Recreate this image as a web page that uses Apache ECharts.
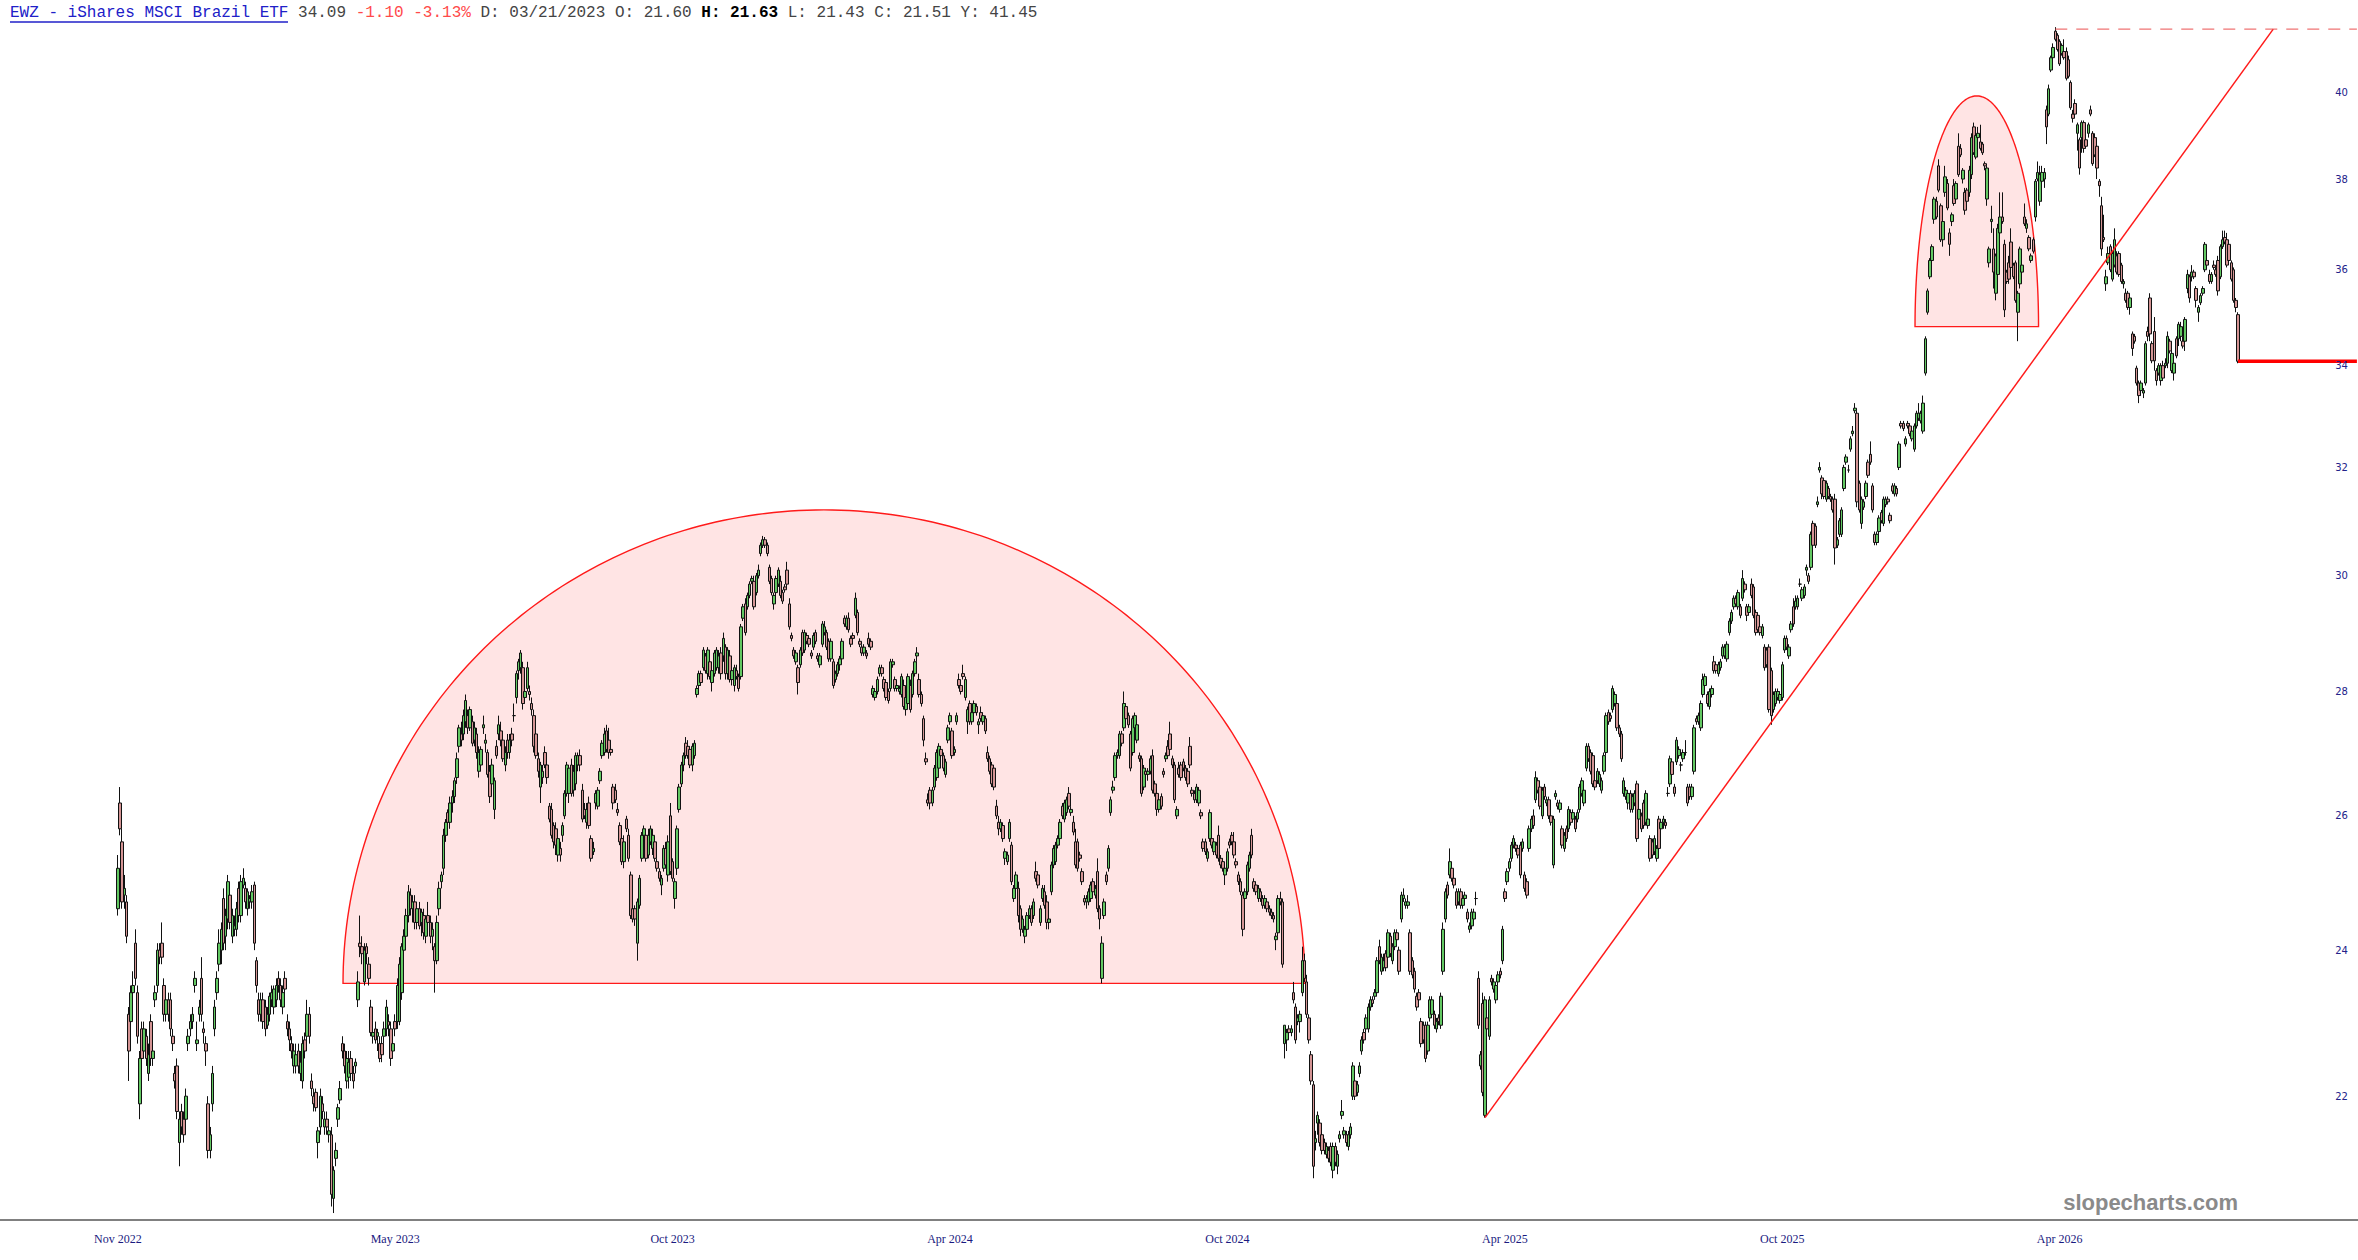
<!DOCTYPE html>
<html><head><meta charset="utf-8">
<script src="https://cdn.jsdelivr.net/npm/echarts@6/dist/echarts.min.js"></script>
<style>html,body{margin:0;padding:0;background:#fff}#chart{width:2358px;height:1260px}</style>
</head><body><div id="chart"></div>
<script>
// ---- axis text ----
const tickLabels = ['Nov 2022','May 2023','Oct 2023','Apr 2024','Oct 2024','Apr 2025','Oct 2025','Apr 2026'];
const tickEvery = 126;
const yTicks = [22,24,26,28,30,32,34,36,38,40];
const padLeft = 53, padRight = 54;

// ---- daily bars [open, high, low, close] ----
const seg1 = [
[24.6,25.4,24.5,25.2],[26.2,26.45,25.7,25.8],[25.6,25.8,24.6,24.7],[24.8,25.1,24.6,24.9],[24.7,24.8,24.1,24.2],
[23.1,23.2,22.2,22.6],[23.0,23.5,22.9,23.4],[23.4,23.7,23.3,23.5],[24.1,24.3,23.5,23.6],[23.4,23.5,22.7,22.8],
[21.9,22.6,21.7,22.5],[22.9,23.0,22.4,22.5],[22.6,23.0,22.5,22.9],[22.8,22.9,22.4,22.5],[22.3,22.7,22.2,22.55],
[23.0,23.1,22.4,22.5],[22.5,22.8,22.4,22.6],[23.3,23.5,23.2,23.4],[23.5,24.1,23.4,24.0],[24.0,24.1,23.8,23.9],
[24.1,24.4,23.8,23.9],[23.5,23.6,23.0,23.1],[23.1,23.4,23.0,23.3],[23.3,23.4,23.0,23.1],[23.3,23.4,22.8,22.9],
[22.8,22.9,22.6,22.7],[22.3,22.4,22.1,22.2],[22.4,22.5,21.7,21.8],[21.4,21.8,21.1,21.7],[21.8,21.9,21.5,21.6],
[21.7,21.8,21.4,21.5],[21.7,22.1,21.6,22.0],[22.7,22.9,22.6,22.8],[22.9,23.1,22.8,23.0],[23.0,23.2,22.9,23.1],
[23.5,23.7,23.4,23.6],[22.7,23.0,22.6,22.75],[23.1,23.3,23.0,23.2],[23.6,23.9,23.0,23.1],[22.9,23.0,22.7,22.85],
[22.7,22.8,22.4,22.6],[21.9,22.0,21.2,21.3],[21.3,21.6,21.2,21.5],[21.9,22.4,21.8,22.3],[22.9,23.3,22.8,23.2],
[23.4,23.7,23.3,23.6],[23.8,24.3,23.7,24.1],[24.0,24.4,23.8,24.3],[24.75,24.9,24.0,24.1],[24.2,24.6,24.0,24.5],
[24.45,25.1,24.3,25.0],[24.8,24.9,24.3,24.4],[24.2,24.6,24.1,24.5],[24.3,24.5,24.2,24.35],[24.3,24.7,24.2,24.6],
[24.9,25.0,24.4,24.5],[24.5,25.1,24.4,25.0],[24.95,25.2,24.9,25.05],[24.9,25.0,24.6,24.7],[24.6,24.9,24.5,24.85],
[24.7,24.8,24.6,24.75],[24.7,24.95,24.6,24.85],[24.95,25.0,24.0,24.1],[23.85,23.9,23.4,23.5],[23.3,23.4,23.0,23.1],
[23.1,23.4,23.0,23.3],[23.3,23.4,22.9,23.0],[23.2,23.3,22.8,22.9],[22.95,23.2,22.9,23.1],[23.1,23.4,23.0,23.35],
[23.3,23.5,23.2,23.4],[23.2,23.5,23.1,23.45],[23.3,23.6,23.2,23.5],[23.6,23.7,23.4,23.5],[23.5,23.6,23.2,23.3],
[23.2,23.5,23.1,23.4],[23.6,23.7,23.3,23.45],[23.0,23.1,22.8,22.9],[22.9,23.0,22.6,22.75],[22.7,22.8,22.5,22.6],
[22.4,22.7,22.3,22.6],[22.4,22.7,22.3,22.55],[22.6,22.7,22.3,22.4],[22.3,22.6,22.2,22.45],[22.2,22.8,22.1,22.7],
[22.75,22.85,22.5,22.6],[22.8,23.3,22.7,23.1],[23.1,23.2,22.7,22.8],[22.2,22.3,22.0,22.1],[22.0,22.1,21.8,21.9],
[22.05,22.1,21.8,21.85],[21.4,21.6,21.2,21.55],[21.6,22.1,21.5,22.0],[21.9,22.0,21.7,21.8],[21.6,21.8,21.5,21.7],
[21.7,21.8,21.5,21.6],[21.5,21.7,21.4,21.55],[21.5,21.6,20.6,20.75],[20.7,21.1,20.52,21.05],[21.2,21.4,21.1,21.3],
[21.7,21.9,21.6,21.85],[21.95,22.2,21.9,22.1],[22.7,22.8,22.5,22.6],[22.6,22.7,22.3,22.4],[22.2,22.6,22.1,22.5],
[22.25,22.6,22.1,22.45],[22.5,22.6,22.2,22.3],[22.3,22.4,22.1,22.2],[22.4,22.5,22.3,22.45],[23.3,23.7,23.2,23.55],
[24.1,24.5,23.9,24.05],[24.05,24.2,23.8,23.95],[23.55,24.1,23.5,24.0],[24.05,24.1,23.8,23.95],[23.8,23.9,23.5,23.6],
[23.2,23.3,22.8,22.85],[22.8,23.0,22.7,22.85],[22.9,23.0,22.7,22.75],[22.8,22.9,22.6,22.85],[22.7,22.8,22.45,22.5],
[22.7,22.8,22.45,22.55],[22.8,23.0,22.7,22.9],[22.9,23.3,22.8,23.2],[23.0,23.1,22.8,22.95],[22.9,23.0,22.4,22.5],
[22.6,22.8,22.5,22.7],[23.0,23.1,22.8,22.9],[23.0,23.6,22.9,23.5]
];
const seg2 = [
[23.0,23.9,22.95,23.8],[23.4,24.1,23.3,24.05],[24.0,24.3,23.9,24.2],[24.2,24.6,24.1,24.5],[24.5,24.95,24.4,24.85],
[24.8,24.9,24.5,24.6],[24.6,24.8,24.4,24.7],[24.7,24.8,24.3,24.4],[24.4,24.7,24.3,24.6],[24.6,24.7,24.3,24.35],
[24.4,24.6,24.2,24.55],[24.5,24.6,24.15,24.25],[24.2,24.5,24.1,24.45],[24.5,24.7,24.3,24.4],[24.4,24.5,24.1,24.2],
[24.2,24.4,24.0,24.3],[24.05,24.1,23.4,23.85],[23.85,24.5,23.8,24.4],[24.6,25.0,24.5,24.9],[25.0,25.15,24.9,25.1],
[25.2,25.8,25.1,25.7],[25.7,25.95,25.6,25.9],[26.05,26.1,25.8,25.9],[25.9,26.3,25.8,26.2],[26.2,26.4,26.05,26.3],
[26.3,26.6,26.2,26.55],[26.6,27.0,26.5,26.9],[27.1,27.45,27.0,27.4],[27.3,27.5,27.1,27.2],[27.3,27.7,27.2,27.6],
[27.5,27.95,27.4,27.85],[27.6,27.7,27.3,27.4],[27.4,27.75,27.35,27.7],[27.5,27.6,27.1,27.15],[27.2,27.5,27.1,27.4],
[27.3,27.4,26.9,27.0],[26.7,27.1,26.6,27.0],[26.8,27.1,26.7,27.05],[27.4,27.6,27.3,27.45],[27.15,27.3,27.0,27.2],
[27.0,27.05,26.6,26.65],[26.7,26.8,26.2,26.3],[26.5,26.9,26.4,26.8],[26.1,26.6,25.95,26.55],[27.1,27.2,26.9,26.95],
[27.3,27.6,27.2,27.45],[27.35,27.5,27.1,27.2],[27.2,27.3,26.85,26.9],[26.8,27.1,26.7,27.0],[27.2,27.3,26.9,27.0],
[27.0,27.3,26.9,27.2],[27.3,27.4,27.1,27.2],[27.6,27.8,27.5,27.6],[27.9,28.35,27.8,28.3],[28.35,28.55,28.2,28.5],
[28.4,28.7,28.3,28.65],[28.4,28.5,27.7,27.8],[27.9,28.1,27.8,28.0],[28.05,28.5,28.0,28.4],[28.0,28.1,27.85,27.95],
[27.8,27.9,27.6,27.7],[27.6,27.7,27.0,27.1],[27.3,27.35,26.9,26.95],[26.9,27.0,26.6,26.7],[26.45,26.85,26.2,26.8],
[26.6,26.8,26.5,26.7],[27.0,27.1,26.75,26.8],[26.8,26.9,26.5,26.6],[26.15,26.2,25.9,25.95],[26.1,26.2,25.65,25.7],
[25.85,25.9,25.5,25.6],[25.8,25.9,25.4,25.55],[25.4,25.7,25.3,25.65],[25.5,25.6,25.3,25.4],[25.7,25.9,25.6,25.85],
[26.0,26.4,25.95,26.35],[26.35,26.85,26.3,26.8],[26.35,26.8,26.2,26.75],[26.8,26.9,26.3,26.35],[26.4,26.8,26.3,26.7],
[26.5,27.0,26.4,26.95],[26.8,27.0,26.7,26.95],[26.95,27.05,26.7,26.8],[26.4,26.5,25.9,25.95],[26.1,26.2,25.95,26.0],
[25.9,26.2,25.8,26.1],[26.2,26.3,25.8,25.85],[25.65,25.7,25.3,25.35],[25.45,25.6,25.4,25.5],[26.2,26.4,26.1,26.35],
[26.15,26.45,26.1,26.4],[26.55,26.75,26.5,26.7],[26.95,27.2,26.9,27.15],[27.0,27.4,26.95,27.3],[27.35,27.45,27.0,27.05],
[27.2,27.4,26.9,27.0],[27.05,27.1,26.95,27.0],[26.45,26.5,26.1,26.2],[26.4,26.5,26.2,26.25],[26.1,26.2,26.0,26.05],
[25.85,25.9,25.55,25.6],[25.65,25.7,25.25,25.3],[25.3,25.7,25.2,25.6],[25.95,26.0,25.75,25.8],[25.7,25.8,25.3,25.35],
[25.1,25.15,24.45,24.5],[24.6,24.7,24.4,24.45],[24.6,24.65,24.35,24.45],[24.1,24.75,23.85,24.7],[24.65,25.1,24.6,25.05],
[25.35,25.75,25.3,25.7],[25.7,25.85,25.6,25.8],[25.7,25.8,25.3,25.35],[25.4,25.8,25.35,25.7],[25.6,25.85,25.55,25.8],
[25.5,25.8,25.4,25.7],[25.6,25.65,25.3,25.35],[25.3,25.35,25.15,25.2],[25.15,25.2,25.0,25.05],[24.95,25.1,24.8,25.05],
[25.2,25.55,25.15,25.5],[25.5,25.6,25.2,25.25],[25.1,25.7,25.0,25.6],[26.0,26.2,25.1,25.15],[25.3,25.35,25.0,25.05],
[24.75,25.05,24.6,25.0],[25.2,25.85,25.1,25.8],[26.1,26.5,26.05,26.45],[26.5,26.85,26.45,26.8],[26.8,27.0,26.7,26.95],
[27.15,27.25,26.9,26.95],[27.1,27.2,26.9,26.95],[27.05,27.1,26.75,26.8],[26.8,27.15,26.7,27.1],[26.95,27.2,26.9,27.15],
[27.95,28.1,27.9,28.05],[28.1,28.35,28.0,28.3],[28.3,28.35,28.1,28.15],[28.4,28.75,28.35,28.7],[28.6,28.65,28.3,28.35],
[28.3,28.75,28.2,28.7],[28.5,28.6,28.2,28.25],[28.15,28.4,28.0,28.35],[28.3,28.7,28.25,28.65],[28.4,28.75,28.35,28.7],
[28.4,28.7,28.3,28.6],[28.65,28.75,28.2,28.3],[28.6,29.0,28.5,28.9],[28.75,28.8,28.2,28.3],[28.3,28.75,28.2,28.7],
[28.6,28.7,28.15,28.2],[28.2,28.4,28.1,28.35],[28.1,28.45,28.0,28.4],[28.35,28.45,28.2,28.25],[28.25,28.3,28.0,28.05],
[28.25,29.15,28.2,29.1],[29.25,29.5,29.2,29.45],[29.5,29.6,28.95,29.0],[29.45,29.7,29.4,29.65],[29.65,29.9,29.6,29.85],
[29.9,30.0,29.85,29.95],[29.9,30.0,29.4,29.45],[29.7,30.05,29.65,30.0],[30.0,30.2,29.95,30.1],[30.4,30.6,30.35,30.55],
[30.55,30.72,30.5,30.65],[30.65,30.7,30.5,30.55],[30.55,30.6,30.35,30.4],[30.15,30.2,29.85,29.9],[29.95,30.0,29.65,29.7],
[29.5,29.7,29.4,29.65],[29.7,30.0,29.6,29.95],[29.85,30.15,29.8,30.1],[29.9,30.0,29.6,29.65],[29.7,29.75,29.5,29.55],
[29.8,29.85,29.7,29.75],[30.1,30.25,29.8,29.85],[29.5,29.6,29.05,29.1],[28.95,29.0,28.85,28.9],[28.7,28.75,28.55,28.6],
[28.5,28.7,28.45,28.65],[28.4,28.45,27.95,28.15],[28.45,28.75,28.4,28.7],[29.0,29.05,28.6,28.65],[28.7,29.05,28.65,29.0],
[28.95,29.0,28.8,28.85],[28.9,28.95,28.75,28.8],[28.65,28.7,28.55,28.6],[28.75,29.0,28.7,28.95],[29.0,29.05,28.8,28.85],
[28.6,28.65,28.5,28.55],[28.45,28.65,28.4,28.6],[28.8,29.2,28.75,29.15],[29.0,29.2,28.95,29.1],[29.0,29.05,28.7,28.75],
[28.85,28.9,28.5,28.55],[28.55,28.9,28.5,28.85],[28.5,28.55,28.05,28.1],[28.2,28.35,28.15,28.3],[28.3,28.5,28.25,28.45],
[28.45,28.6,28.35,28.55],[28.55,28.9,28.5,28.85],[29.25,29.3,29.1,29.15],[29.1,29.3,29.05,29.25],[29.25,29.35,29.0,29.05],
[28.9,28.95,28.75,28.8],[28.95,29.0,28.8,28.9],[29.3,29.7,29.25,29.6],[29.35,29.4,28.95,29.0],[28.85,28.9,28.75,28.8],
[28.75,28.8,28.6,28.65],[28.65,28.8,28.6,28.75],[28.65,28.7,28.55,28.6],[28.9,29.0,28.75,28.8],[28.85,28.9,28.7,28.75],
[27.95,28.1,27.9,28.05],[27.9,28.05,27.85,28.0],[28.0,28.25,27.95,28.2],[28.3,28.45,28.25,28.4],[28.4,28.45,28.25,28.3],
[28.2,28.25,28.0,28.05],[28.15,28.2,27.85,27.9],[28.0,28.05,27.8,27.85],[28.05,28.55,28.0,28.5],[28.45,28.55,28.4,28.5],
[28.2,28.25,28.0,28.05],[28.05,28.15,28.0,28.1]
];
const seg3 = [
[28.0,28.1,27.95,28.05],[27.95,28.3,27.9,28.25],[28.1,28.2,27.7,27.75],[27.7,27.95,27.6,27.9],[27.8,28.3,27.75,28.25],
[28.1,28.2,27.65,27.7],[27.95,28.35,27.9,28.3],[28.3,28.55,28.25,28.5],[28.6,28.75,28.5,28.65],[28.2,28.3,27.9,27.95],
[27.95,28.0,27.75,27.8],[27.55,27.6,27.1,27.2],[26.9,27.0,26.8,26.85],[26.25,26.35,26.15,26.2],[26.4,26.45,26.1,26.2],
[26.2,26.45,26.15,26.4],[26.45,26.8,26.4,26.75],[26.6,27.05,26.55,27.0],[26.75,27.15,26.7,27.1],[27.05,27.1,26.9,26.95],
[26.95,27.0,26.7,26.75],[26.65,26.9,26.6,26.85],[27.2,27.45,27.15,27.4],[27.5,27.65,27.45,27.6],[27.35,27.4,26.9,26.95],
[27.0,27.1,26.95,27.05],[27.5,27.65,27.45,27.6],[28.2,28.3,28.05,28.1],[28.1,28.15,27.95,28.0],[28.3,28.45,28.2,28.25],
[27.9,28.25,27.85,28.2],[27.5,27.75,27.3,27.7],[27.8,27.85,27.45,27.5],[27.5,27.7,27.45,27.65],[27.65,27.85,27.6,27.8],
[27.75,27.8,27.6,27.65],[27.45,27.55,27.3,27.5],[27.65,27.75,27.5,27.55],[27.5,27.65,27.45,27.6],[27.55,27.6,27.3,27.35],
[27.0,27.1,26.85,26.9],[26.9,26.95,26.65,26.7],[26.8,26.85,26.45,26.5],[26.75,26.8,26.4,26.45],[26.15,26.25,25.95,26.0],
[25.9,26.0,25.7,25.8],[25.8,25.95,25.75,25.9],[25.85,25.9,25.6,25.65],[25.35,25.5,25.25,25.45],[25.3,25.45,25.25,25.4],
[25.65,25.95,25.6,25.9],[25.55,25.6,24.95,25.0],[24.75,24.95,24.7,24.9],[24.9,25.15,24.85,25.1],[24.9,25.0,24.4,24.5],
[24.6,24.65,24.2,24.3],[24.3,24.5,24.25,24.45],[24.2,24.35,24.1,24.3],[24.3,24.55,24.25,24.5],[24.5,24.65,24.45,24.6],
[24.6,24.65,24.35,24.4],[24.5,24.75,24.45,24.7],[25.15,25.3,25.0,25.05],[25.1,25.15,24.9,24.95],[24.4,24.65,24.35,24.6],
[24.75,24.95,24.7,24.9],[24.85,24.95,24.6,24.65],[24.7,24.8,24.3,24.4],[24.4,24.5,24.3,24.45],[24.85,25.3,24.8,25.25],
[25.25,25.55,25.2,25.5],[25.3,25.6,25.25,25.55],[25.55,25.7,25.5,25.65],[25.65,25.95,25.6,25.9],[26.15,26.2,25.95,26.0],
[25.95,26.25,25.9,26.2],[26.05,26.3,26.0,26.25],[26.35,26.45,26.1,26.15],[26.05,26.15,26.0,26.1],[25.9,26.0,25.7,25.75],
[25.6,25.8,25.2,25.25],[25.6,25.65,25.15,25.2],[25.4,25.45,25.3,25.35],[25.15,25.2,24.95,25.0],[24.75,24.8,24.65,24.7],
[24.7,24.8,24.6,24.75],[24.7,24.9,24.65,24.85],[24.75,25.0,24.7,24.95],[25.0,25.05,24.8,24.85],[24.8,24.95,24.75,24.9],
[25.15,25.35,24.55,24.6],[24.6,24.65,24.3,24.45],[23.6,24.2,23.53,24.1],[24.5,24.75,24.45,24.7],[25.1,25.15,24.95,25.0],
[25.2,25.55,25.15,25.5],[26.05,26.3,26.0,26.25],[26.4,26.55,26.35,26.45],[26.6,27.0,26.55,26.95],[26.95,27.05,26.9,27.0],
[26.95,27.35,26.9,27.3],[27.3,27.35,27.1,27.15],[27.4,28.0,27.35,27.8],[27.75,27.8,27.5,27.55],[27.6,27.65,27.4,27.45],
[27.3,27.35,26.7,26.75],[27.0,27.6,26.95,27.55],[27.4,27.65,27.35,27.6],[27.2,27.5,27.15,27.45],[26.95,27.0,26.85,26.9],
[26.9,26.95,26.3,26.35],[26.45,26.8,26.4,26.75],[26.7,26.75,26.6,26.65],[26.65,26.75,26.55,26.7],[26.7,26.95,26.65,26.9],
[26.95,27.05,26.35,26.4],[26.5,26.55,26.3,26.35],[26.35,26.4,26.0,26.1],[26.1,26.3,26.05,26.25],[26.3,26.35,26.1,26.15],
[26.7,26.75,26.6,26.65],[26.9,27.0,26.85,26.95],[27.1,27.2,26.9,26.95],[27.3,27.5,27.0,27.05],[26.9,26.95,26.75,26.8],
[26.8,26.85,26.2,26.25],[26.0,26.15,25.95,26.1],[26.75,26.85,26.6,26.65],[26.8,26.85,26.55,26.6],[26.85,26.9,26.7,26.75],
[26.75,26.8,26.55,26.6],[26.7,26.75,26.45,26.5],[27.1,27.25,26.75,26.8],[26.4,26.45,26.3,26.35],[26.35,26.4,26.2,26.25],
[26.25,26.5,26.2,26.45],[26.2,26.45,26.15,26.4],[26.05,26.1,25.95,26.0],[25.6,25.65,25.45,25.5],[25.6,25.65,25.4,25.45],
[25.35,25.5,25.3,25.45],[25.65,26.1,25.6,26.05],[25.65,25.7,25.5,25.55],[25.45,25.65,25.4,25.6],[25.55,25.6,25.35,25.4],
[25.7,25.85,25.3,25.35],[25.35,25.4,25.2,25.25],[25.3,25.35,25.15,25.2],[25.1,25.25,24.95,25.2],[25.2,25.5,25.15,25.45],
[25.6,25.65,25.5,25.55],[25.7,25.75,25.55,25.6],[25.6,25.75,25.35,25.4],[25.3,25.35,25.2,25.25],[25.1,25.15,24.95,25.0],
[25.0,25.05,24.8,24.85],[24.8,24.85,24.2,24.3],[24.75,24.9,24.7,24.85],[24.85,25.3,24.8,25.25],[25.2,25.45,25.15,25.4],
[25.7,25.8,25.35,25.4],[25.0,25.05,24.85,24.9],[24.95,25.0,24.8,24.85],[24.75,24.95,24.7,24.9],[24.85,24.9,24.7,24.75],
[24.75,24.8,24.6,24.65],[24.65,24.8,24.6,24.75],[24.7,24.75,24.55,24.6],[24.6,24.65,24.5,24.55],[24.55,24.6,24.45,24.5],
[24.5,24.55,24.4,24.45],[24.15,24.25,24.0,24.2],[24.25,24.8,24.2,24.75],[24.75,24.85,24.65,24.7],[24.7,24.75,23.75,23.8],
[22.7,22.95,22.5,22.95],[22.75,22.9,22.6,22.85],[22.9,22.95,22.8,22.85],[22.85,22.95,22.8,22.9],[23.4,23.55,23.25,23.3],
[23.2,23.25,22.7,22.75],[23.0,23.1,22.95,23.05],[23.0,23.15,22.85,23.1],[23.4,24.05,23.35,23.85],[23.85,23.95,23.55,23.6],
[23.55,23.65,23.05,23.1],[23.05,23.1,22.7,22.75],[22.55,22.6,22.15,22.2],[22.15,22.2,20.95,21.1],[21.4,21.55,21.3,21.45],
[21.65,21.8,21.5,21.75],[21.65,21.7,21.35,21.4],[21.5,21.55,21.25,21.3],[21.4,21.45,21.25,21.3],[21.25,21.4,21.2,21.35],
[21.3,21.35,21.15,21.2],[21.35,21.4,21.1,21.15],[21.05,21.4,20.95,21.35],[21.35,21.4,21.1,21.15],[21.1,21.3,21.0,21.25],
[21.45,21.55,21.4,21.5],[21.75,21.95,21.7,21.8],[21.5,21.6,21.45,21.55],[21.5,21.55,21.35,21.4],[21.35,21.55,21.3,21.5],
[21.5,21.65,21.45,21.6],[22.0,22.45,21.95,22.4],[22.2,22.25,21.95,22.0],[22.05,22.2,22.0,22.15],[22.3,22.45,22.25,22.4],
[22.6,22.8,22.55,22.75],[22.85,22.9,22.7,22.75],[22.9,23.1,22.85,23.05],[22.9,23.25,22.85,23.2],[23.2,23.35,23.15,23.3],
[23.3,23.35,23.2,23.25],[23.35,23.45,23.3,23.4],[23.4,23.9,23.35,23.85],[24.05,24.15,23.8,23.85],[23.7,23.95,23.65,23.9],
[23.75,23.95,23.7,23.85],[23.95,24.0,23.7,23.75],[23.9,24.3,23.85,24.25],[24.2,24.25,23.9,23.95],[23.85,24.1,23.8,24.05],
[24.05,24.3,24.0,24.25],[24.25,24.3,24.1,24.15],[24.0,24.05,23.65,23.7],[24.45,24.85,24.4,24.8],[24.75,24.9,24.7,24.8],
[24.65,24.75,24.6,24.7],[24.65,24.8,24.6,24.7],[24.25,24.3,23.65,23.7],[23.85,23.9,23.6,23.65],[23.7,23.75,23.4,23.45],
[23.35,23.4,23.15,23.2]
];
const seg4 = [
[23.4,23.45,23.25,23.3],[23.0,23.05,22.65,22.7],[22.95,23.0,22.7,22.75],[22.95,23.0,22.45,22.5],[22.6,23.0,22.55,22.95],
[23.05,23.35,23.0,23.3],[23.1,23.35,23.05,23.3],[23.1,23.15,22.9,22.95],[22.9,23.05,22.85,23.0],[23.05,23.1,22.95,23.0],
[22.95,23.4,22.9,23.35],[23.7,24.4,23.65,24.3],[24.45,24.9,24.4,24.85],[24.95,25.0,24.75,24.8],[25.1,25.5,25.05,25.3],
[25.2,25.25,25.0,25.05],[25.05,25.1,24.9,24.95],[24.85,24.9,24.6,24.65],[24.7,24.9,24.65,24.85],[24.85,24.9,24.6,24.65],
[24.65,24.8,24.6,24.75],[24.75,24.85,24.7,24.8],[24.55,24.6,24.4,24.45],[24.3,24.4,24.25,24.35],[24.35,24.6,24.3,24.55],
[24.45,24.6,24.4,24.55],[24.75,24.85,24.65,24.75],[23.6,23.7,22.9,22.95],[22.4,22.6,22.35,22.55],[23.25,23.4,22.0,22.05],
[21.75,23.35,21.72,23.3],[23.05,23.1,22.85,22.9],[22.8,23.35,22.75,23.3],[23.6,23.65,23.5,23.55],[23.45,23.6,23.4,23.55],
[23.3,23.55,23.25,23.5],[23.55,23.7,23.5,23.65],[23.7,23.75,23.6,23.65],[23.85,24.35,23.8,24.3],[24.85,24.9,24.7,24.75],
[25.0,25.2,24.95,25.15],[25.2,25.35,25.15,25.3],[25.35,25.6,25.3,25.55],[25.55,25.7,25.5,25.65],[25.55,25.6,25.45,25.5],
[25.5,25.55,25.35,25.4],[25.55,25.6,25.05,25.1],[25.5,25.65,25.45,25.6],[25.1,25.15,24.85,24.9],[25.0,25.05,24.75,24.8],
[25.5,25.85,25.45,25.8],[25.8,26.0,25.75,25.95],[26.0,26.1,25.8,25.85],[26.25,26.7,26.2,26.6],[26.55,26.6,26.35,26.4],
[26.45,26.5,26.1,26.15],[26.0,26.45,25.95,26.4],[26.45,26.5,26.25,26.3],[26.2,26.3,26.15,26.25],[26.25,26.3,25.95,26.0],
[26.0,26.05,25.85,25.9],[25.25,26.0,25.2,25.95],[26.3,26.4,26.25,26.35],[26.2,26.25,26.1,26.15],[26.1,26.25,26.05,26.2],
[25.8,25.85,25.5,25.55],[25.5,25.75,25.45,25.7],[25.8,25.85,25.6,25.65],[25.8,26.15,25.75,26.1],[26.05,26.1,25.85,25.9],
[25.95,26.1,25.9,26.05],[25.95,26.0,25.75,25.8],[25.95,26.1,25.9,26.05],[26.1,26.5,26.05,26.45],[26.35,26.6,26.3,26.55],
[26.2,26.45,26.15,26.4],[26.75,27.15,26.7,27.1],[27.1,27.15,26.85,26.9],[27.0,27.05,26.65,26.7],[26.95,27.0,26.45,26.5],
[26.55,26.6,26.4,26.45],[26.55,26.75,26.5,26.7],[26.5,26.7,26.45,26.65],[26.4,26.6,26.35,26.55],[26.7,27.0,26.65,26.95],
[27.0,27.65,26.95,27.6],[27.65,27.7,27.45,27.5],[27.6,27.65,27.5,27.55],[27.7,28.1,27.65,28.05],[27.8,28.0,27.75,27.95],
[27.8,27.85,27.35,27.4],[27.4,27.45,27.25,27.3],[27.3,27.35,26.85,26.9],[26.35,26.6,26.3,26.55],[26.3,26.45,26.25,26.4],
[26.2,26.4,26.1,26.35],[26.35,26.4,26.05,26.1],[26.1,26.35,26.05,26.3],[26.2,26.4,26.15,26.35],[26.5,26.55,25.6,25.65],
[25.95,26.15,25.9,26.1],[26.0,26.05,25.75,25.8],[26.2,26.25,25.8,25.85],[25.9,26.4,25.85,26.35],[25.85,26.0,25.8,25.95],
[25.65,25.7,25.3,25.35],[25.6,25.65,25.35,25.4],[25.45,25.7,25.4,25.65],[25.35,25.55,25.3,25.5],[25.95,26.0,25.45,25.5],
[25.8,25.95,25.75,25.9],[25.9,26.0,25.8,25.95],[25.9,25.95,25.8,25.85],[26.35,26.45,26.3,26.35],[26.5,26.95,26.45,26.9],
[26.85,26.9,26.6,26.65],[26.45,26.5,26.3,26.35],[26.85,27.25,26.8,27.2],[26.95,27.1,26.9,27.05],[26.8,26.85,26.7,26.8],
[26.9,27.05,26.85,27.0],[27.0,27.2,26.95,27.0],[26.45,26.5,26.15,26.2],[26.45,26.5,26.25,26.3],[26.3,26.5,26.25,26.45],
[26.7,27.45,26.65,27.4],[27.55,27.6,27.45,27.5],[27.5,27.65,27.45,27.6],[27.4,27.85,27.35,27.8],[27.95,28.3,27.9,28.2],
[28.1,28.3,28.05,28.25],[27.95,28.0,27.75,27.8],[27.75,28.05,27.7,28.0],[27.95,28.1,27.9,28.05],[28.5,28.6,28.3,28.35],
[28.45,28.5,28.3,28.35],[28.3,28.5,28.25,28.45],[28.4,28.55,28.35,28.5],[28.6,28.8,28.55,28.75],[28.6,28.8,28.55,28.75],
[28.55,28.85,28.5,28.8],[29.0,29.25,28.95,29.2],[29.2,29.4,29.15,29.35],[29.45,29.65,29.4,29.6],[29.6,29.65,29.45,29.5],
[29.45,29.75,29.4,29.7],[29.45,29.5,29.25,29.3],[29.6,30.1,29.55,29.95],[29.85,29.9,29.7,29.75],[29.45,29.5,29.2,29.3],
[29.35,29.5,29.3,29.45],[29.85,29.95,29.6,29.65],[29.8,29.85,29.25,29.3],[29.35,29.4,28.95,29.0],[29.3,29.35,29.0,29.05],
[29.1,29.15,28.95,29.0],[28.95,29.15,28.9,29.1],[28.75,28.8,28.35,28.4],[28.7,28.75,28.4,28.45],[28.75,28.8,27.65,27.7],
[28.35,28.4,27.45,27.6],[27.7,28.0,27.65,27.95],[27.8,28.05,27.75,28.0],[27.9,28.05,27.85,28.0],[27.85,28.0,27.8,27.95],
[27.9,28.5,27.85,28.45],[28.7,28.95,28.65,28.9],[28.9,28.95,28.7,28.75],[28.6,28.8,28.55,28.75],[29.05,29.2,29.0,29.15],
[29.45,29.6,29.1,29.15],[29.45,29.65,29.4,29.55],[29.45,29.65,29.4,29.6],[29.85,29.95,29.8,29.85],[29.6,29.8,29.55,29.75],
[29.65,29.85,29.6,29.8],[30.1,30.2,30.0,30.15],[30.0,30.05,29.85,29.9],[30.15,30.8,30.1,30.75],[30.95,31.0,30.5,30.55],
[30.9,30.95,30.5,30.55],[31.3,31.45,31.25,31.35],[31.95,32.1,31.9,32.0],[31.8,31.85,31.4,31.5],[31.75,31.8,31.4,31.45],
[31.4,31.75,31.35,31.7],[31.6,31.65,31.4,31.45],[31.45,31.5,31.35,31.4],[31.4,31.45,31.15,31.2],[31.4,31.5,30.2,30.5],
[30.55,30.7,30.5,30.65],[30.75,31.05,30.7,31.0],[30.75,31.25,30.7,31.2],[31.6,32.05,31.55,32.0],[32.1,32.25,32.05,32.2],
[31.95,32.05,31.9,31.95],[32.35,32.6,32.3,32.55],[32.65,32.8,32.6,32.7],[33.1,33.25,33.05,33.15],[33.05,33.1,31.25,31.35],
[31.7,31.75,31.15,31.2],[30.95,31.45,30.85,31.4],[31.25,31.4,31.2,31.35],[31.45,31.75,31.4,31.7],[32.1,32.15,31.8,31.85],
[32.25,32.5,32.05,32.1],[31.65,31.7,31.15,31.2],[30.75,30.8,30.55,30.6],[30.6,30.8,30.55,30.75],[30.8,31.1,30.6,31.05],
[31.15,31.2,30.95,31.0],[30.95,31.45,30.9,31.4],[31.3,31.45,31.25,31.4],[31.4,31.45,31.3,31.35],[31.1,31.15,30.95,31.0],
[31.65,31.7,31.5,31.55],[31.5,31.7,31.45,31.65],[31.6,31.65,31.45,31.5],[32.0,32.5,31.95,32.45],[32.85,32.9,32.75,32.8],
[32.85,32.9,32.7,32.75],[32.45,32.6,32.4,32.55],[32.85,32.9,32.75,32.8],[32.8,32.85,32.6,32.65],[32.55,32.75,32.5,32.7],
[32.35,32.85,32.3,32.8],[32.8,33.1,32.75,33.05],[32.95,33.25,32.9,33.05]
];
const seg5 = [
[32.9,33.1,32.85,33.05],[32.7,33.4,32.65,33.25],[33.85,34.6,33.8,34.55],[35.1,35.6,35.05,35.55],[35.85,36.25,35.8,36.2],
[36.2,36.55,36.1,36.5],[37.1,37.6,37.0,37.55],[37.5,37.6,37.1,37.15],[38.3,38.45,37.7,37.75],[37.4,37.45,36.6,36.65],
[36.65,37.1,36.5,37.05],[37.7,38.3,37.6,38.05],[37.9,38.0,37.3,37.35],[36.8,36.9,36.3,36.55],[37.05,37.25,36.95,37.2],
[37.85,38.0,37.4,37.45],[37.55,37.95,37.5,37.9],[38.75,39.05,38.05,38.1],[38.7,38.8,38.5,38.55],[38.0,38.25,37.9,38.2],
[37.7,37.8,37.2,37.3],[37.75,37.8,37.45,37.5],[37.7,38.3,37.6,38.2],[38.1,39.05,38.0,38.95],[39.2,39.3,38.55,38.6],
[38.5,39.1,38.45,39.0],[38.95,39.2,38.9,39.05],[38.85,39.25,38.65,38.7],[38.8,38.85,38.55,38.6],[38.35,38.4,38.2,38.3],
[37.55,38.3,37.4,38.25],[36.15,36.5,36.05,36.45],[37.05,37.4,36.8,37.1],[36.45,36.9,35.6,35.95],[35.5,36.35,35.35,36.3],
[35.9,37.0,35.8,36.9],[36.8,37.7,36.75,37.15],[37.15,37.7,37.0,37.05],[36.55,36.65,35.0,35.15],[35.95,36.0,35.7,35.75],
[36.15,36.3,35.7,35.8],[36.6,36.9,36.0,36.05],[36.1,36.15,35.8,35.85],[36.15,36.2,35.3,35.35],[35.1,35.55,34.5,35.5],
[35.7,36.5,35.6,36.45],[35.95,36.2,35.9,36.1],[37.15,37.45,36.95,37.0],[36.9,37.1,36.8,37.0],[36.7,36.75,36.4,36.45],
[36.2,36.35,36.15,36.3],[36.65,36.7,36.35,36.4],[37.15,38.0,37.05,37.95],[38.0,38.4,37.95,38.15],[37.5,38.3,37.4,38.1],
[37.95,38.3,37.5,38.15],[38.0,38.25,37.8,38.15],[39.6,39.7,38.8,39.2],[39.5,40.2,39.45,40.1],[40.55,40.9,40.5,40.85],
[40.85,41.2,40.8,41.1],[41.5,41.6,41.25,41.3],[41.4,41.45,41.0,41.05],[41.25,41.3,40.65,40.7],[40.95,41.2,40.9,41.15],
[41.0,41.3,40.8,40.85],[41.0,41.1,40.3,40.35],[40.8,40.9,40.35,40.4],[40.25,40.3,39.6,39.65],[39.5,39.6,39.3,39.4],
[39.75,39.85,39.45,39.5],[39.05,39.3,38.65,39.25],[38.9,38.95,38.1,38.25],[38.95,39.35,38.6,39.3],[39.3,39.35,38.6,38.7],
[38.9,39.0,38.7,38.75],[39.05,39.3,38.95,39.25],[39.6,39.7,39.45,39.5],[39.05,39.1,38.3,38.35],[38.95,39.05,38.5,38.55],
[38.75,38.8,38.0,38.25],[37.95,38.0,37.6,37.85],[37.4,37.6,36.3,36.45],[36.7,37.2,36.6,36.65],[35.7,36.0,35.55,35.85],
[36.15,36.5,36.1,36.35],[36.5,36.55,35.95,36.0],[35.8,36.4,35.75,36.35],[36.1,36.9,36.05,36.65],[36.3,36.4,35.9,35.95],
[36.35,36.4,35.85,35.9],[36.1,36.15,35.7,35.75],[35.7,35.8,35.6,35.75],[35.5,35.6,35.3,35.35],[35.5,35.55,35.15,35.2],
[35.2,35.45,35.05,35.4],[34.65,34.7,34.2,34.35],[34.6,34.65,34.45,34.5],[33.95,34.0,33.6,33.65],[33.65,33.7,33.25,33.4],
[33.5,33.7,33.4,33.65],[33.45,33.55,33.35,33.5],[33.65,34.5,33.6,34.45],[34.7,34.8,34.5,34.6],[35.4,35.5,34.5,34.65],
[34.45,34.5,34.05,34.1],[34.7,35.0,33.9,34.1],[33.9,33.95,33.6,33.7],[33.85,34.05,33.8,34.0],[33.7,34.05,33.6,34.0],
[34.0,34.1,33.7,33.75],[34.0,34.15,33.95,34.05],[34.05,34.7,33.95,34.6],[34.5,34.55,34.25,34.3],[33.9,34.3,33.85,34.25],
[33.85,34.1,33.7,34.05],[34.55,34.6,34.15,34.2],[34.55,34.9,34.4,34.85],[34.6,34.9,34.5,34.8],[34.5,34.6,34.35,34.4],
[34.5,35.0,34.3,34.95],[35.6,36.0,35.5,35.9],[35.85,35.9,35.3,35.4],[35.85,36.1,35.75,35.95],[35.95,36.0,35.8,35.85],
[35.6,35.65,35.2,35.35],[35.1,35.25,34.9,35.2],[35.3,35.5,35.25,35.45],[35.5,35.65,35.45,35.6],[36.0,36.6,35.95,36.55],
[36.2,36.25,36.05,36.1],[35.9,36.0,35.7,35.75],[35.75,35.95,35.7,35.9],[36.1,36.2,36.0,36.05],[36.0,36.05,35.85,35.9],
[36.2,36.3,35.45,35.55],[35.85,36.55,35.8,36.5],[36.5,36.85,36.45,36.65],[36.7,36.85,36.55,36.6],[36.65,36.8,36.05,36.1],
[36.55,36.6,36.15,36.2],[36.15,36.2,35.75,35.8],[36.0,36.05,35.3,35.35],[35.35,35.4,35.1,35.2],[35.05,35.1,34.05,34.09]
];

// ---- drawings (bar index, price) ----
const domeBig = [102.3, 539.2, 23.53, 31.2];   // [startBar, endBar, basePrice, topPrice]
const domeSmall = [816.3, 872.4, 34.80, 39.93];
const trendLine = [[621, 21.72], [979, 41.55]];
const highLine = [880, 41.55];
const lastClose = 34.09;

const bars = [].concat(seg1, seg2, seg3, seg4, seg5);
const totalCats = padLeft + bars.length + padRight;
const cats = [];
for (let k = 0; k < totalCats; k++) cats.push('c' + k);
const lastCat = totalCats - 1;
const candleData = bars.map((b, i) => [padLeft + i, b[0], b[3], b[2], b[1]]);
const domes = [domeBig, domeSmall];

function barPoint(api, bar, price) {
  const c = padLeft + bar;
  const f = Math.floor(c);
  const a = api.coord([f, price]);
  const b = api.coord([f + 1, price]);
  return [a[0] + (c - f) * (b[0] - a[0]), a[1]];
}

const chart = echarts.init(document.getElementById('chart'), null, {renderer: 'svg'});
chart.setOption({
  animation: false,
  backgroundColor: '#ffffff',
  title: {
    left: 10, top: 5, padding: 0,
    text: '{a|EWZ - iShares MSCI Brazil ETF} {g|34.09} {r|-1.10 -3.13%} {g|D: 03/21/2023 O: 21.60} {b|H: 21.63} {g|L: 21.43 C: 21.51 Y: 41.45}',
    textStyle: {
      fontFamily: 'Liberation Mono', fontSize: 16, color: '#444', fontWeight: 'normal',
      rich: {
        a: {fontFamily: 'Liberation Mono', fontSize: 16, color: '#2020c8'},
        g: {fontFamily: 'Liberation Mono', fontSize: 16, color: '#444444'},
        r: {fontFamily: 'Liberation Mono', fontSize: 16, color: '#ff4a4a'},
        b: {fontFamily: 'Liberation Mono', fontSize: 16, color: '#000000', fontWeight: 'bold'}
      }
    }
  },
  graphic: [
    {type: 'line', shape: {x1: 10, y1: 22, x2: 288, y2: 22}, style: {stroke: '#2020c8', lineWidth: 1.5}, z: 10},
    {type: 'text', right: 120, top: 1191, style: {text: 'slopecharts.com', font: 'bold 22px "Liberation Sans"', fill: '#8a8a8a'}, z: 10}
  ],
  grid: {left: 0, right: 0, top: 20, bottom: 40, containLabel: false},
  xAxis: {
    type: 'category', data: cats, boundaryGap: true,
    axisLine: {show: true, lineStyle: {color: '#808080', width: 2}},
    axisTick: {show: false},
    splitLine: {show: false},
    axisLabel: {
      interval: function (index) {
        const k = index - padLeft;
        return k >= 0 && k % tickEvery === 0 && (k / tickEvery) < tickLabels.length;
      },
      formatter: function (value, index) {
        const k = (index - padLeft) / tickEvery;
        return tickLabels[k] || '';
      },
      fontFamily: 'Liberation Serif', fontSize: 12, color: '#1a1a80', margin: 13
    }
  },
  yAxis: {
    type: 'log', logBase: 10, min: 20.435, max: 41.778,
    axisLine: {show: false}, axisTick: {show: false}, axisLabel: {show: false}, splitLine: {show: false}
  },
  series: [
    {
      type: 'custom', name: 'domes', z: 1, silent: true,
      data: [[padLeft, 30], [padLeft, 30]],
      renderItem: function (params, api) {
        const d = domes[params.dataIndex];
        const L = barPoint(api, d[0], d[2]);
        const R = barPoint(api, d[1], d[2]);
        const T = api.coord([padLeft, d[3]]);
        const cx = (L[0] + R[0]) / 2, rx = (R[0] - L[0]) / 2, yb = L[1], ry = yb - T[1];
        const pts = [];
        for (let k = 0; k <= 180; k++) {
          const t = Math.PI * (1 - k / 180);
          pts.push([cx + rx * Math.cos(t), yb - ry * Math.sin(t)]);
        }
        return {type: 'polygon', shape: {points: pts},
          style: {fill: 'rgba(255,0,0,0.106)', stroke: '#ff1a1a', lineWidth: 1.4}};
      }
    },
    {
      type: 'candlestick', name: 'EWZ', z: 3, large: false, progressive: 0,
      barWidth: 3,
      data: candleData,
      encode: {x: 0, y: [1, 2, 3, 4]},
      itemStyle: {color: '#62c862', color0: '#d49494', borderColor: '#111111', borderColor0: '#111111', borderWidth: 1}
    },
    {
      type: 'line', name: 'trend', z: 4, silent: true, showSymbol: false, symbol: 'none',
      data: trendLine.map(p => [padLeft + p[0], p[1]]),
      lineStyle: {color: '#ff1a1a', width: 1.5}
    },
    {
      type: 'line', name: 'high', z: 4, silent: true, showSymbol: false, symbol: 'none',
      data: [[padLeft + highLine[0], highLine[1]], [lastCat, highLine[1]]],
      lineStyle: {color: 'rgba(235,80,80,0.8)', width: 1.2, type: [12, 9]}
    },
    {
      type: 'line', name: 'last', z: 4, silent: true, showSymbol: false, symbol: 'none',
      data: [[padLeft + bars.length - 1, lastClose], [lastCat, lastClose]],
      lineStyle: {color: '#ff0000', width: 3.5}
    },
    {
      type: 'scatter', name: 'ylabels', z: 5, silent: true, symbol: 'circle', symbolSize: 2,
      itemStyle: {color: 'rgba(255,255,255,0)'},
      data: yTicks.map(v => [lastCat, v]),
      label: {show: true, position: 'left', distance: 8, formatter: function (p) { return String(p.value[1]); },
        fontFamily: 'DejaVu Sans', fontSize: 10, color: '#22228a', opacity: 1}
    }
  ]
});
</script>
</body></html>
